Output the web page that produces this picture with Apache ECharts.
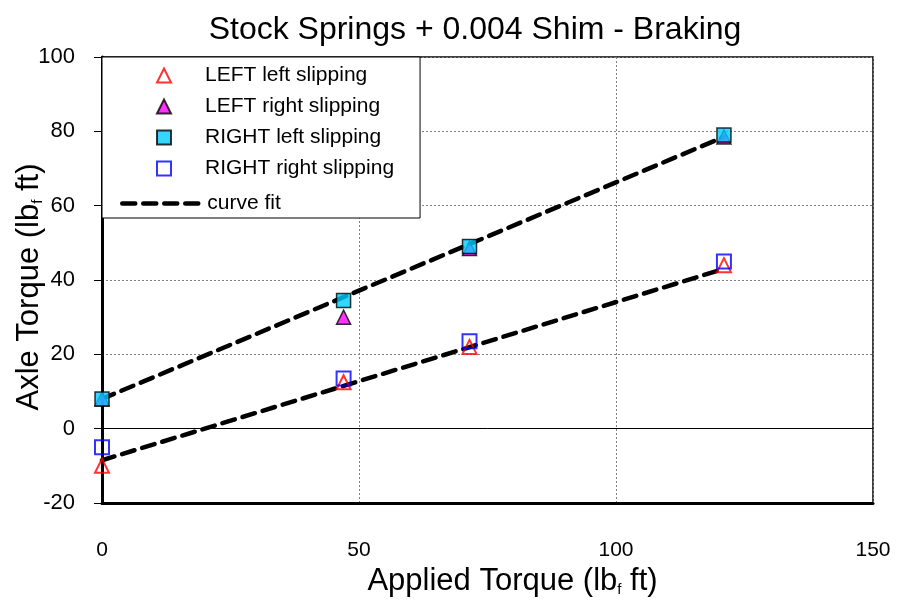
<!DOCTYPE html>
<html>
<head>
<meta charset="utf-8">
<script src="https://cdn.jsdelivr.net/npm/echarts@6/dist/echarts.min.js"></script>
<style>
  html, body { margin: 0; padding: 0; background: #fff; }
  #chart { width: 898px; height: 604px; }
</style>
</head>
<body>
<div id="chart"></div>
<script>
// --- data --- //
const leftLeft = [[0, -10], [47, 12.5], [71.5, 22], [121, 44]];
const leftRight = [[0, 8], [47, 30], [71.5, 48.5], [121, 78.5]];
const rightLeft = [[0, 8], [47, 34.5], [71.5, 49], [121, 79]];
const rightRight = [[0, -5], [47, 13.5], [71.5, 23.5], [121, 45]];
const fitUpper = [[0, 8], [121, 78.5]];
const fitLower = [[0, -8.5], [121, 43]];
const xTicks = [0, 150, 50];   // min, max, interval
const yTicks = [-20, 100, 20];
const markerNames = ['LEFT left slipping', 'LEFT right slipping', 'RIGHT left slipping', 'RIGHT right slipping'];

const font = 'Liberation Sans, Arial, sans-serif';
const dash = {
  color: '#000',
  width: 4.5,
  type: [13, 8],
  cap: 'round'
};
const nameRich = {
  a: { fontFamily: font, fontSize: 31, color: '#000' },
  s: { fontFamily: font, fontSize: 15, color: '#000', verticalAlign: 'bottom', padding: [14, 0, 0, 0] }
};

option = {
  animation: false,
  title: {
    text: 'Stock Springs + 0.004 Shim - Braking',
    left: 470,
    textAlign: 'center',
    top: 9,
    textStyle: { fontFamily: font, fontSize: 32, fontWeight: 'normal', color: '#000' }
  },
  legend: [
    {
      // markers + the box round the whole legend
      orient: 'vertical',
      left: 102,
      top: 57,
      padding: [8, 26, 39, 54],
      itemWidth: 14,
      itemHeight: 14,
      itemGap: 10,
      backgroundColor: '#fff',
      borderColor: '#000',
      borderWidth: 1,
      textStyle: { fontFamily: font, fontSize: 21, color: '#000', padding: [0, 0, 0, 29] },
      data: markerNames
    },
    {
      orient: 'vertical',
      left: 120,
      top: 193,
      padding: 0,
      z: 10,
      itemWidth: 80,
      itemHeight: 14,
      textStyle: { fontFamily: font, fontSize: 21, color: '#000' },
      data: [{
        name: 'curve fit',
        itemStyle: { opacity: 0 },
        lineStyle: { width: 4.5, type: [13, 8], color: '#000' }
      }]
    }
  ],
  grid: {
    left: 102,
    right: 25,
    top: 57,
    bottom: 101,
    outerBoundsMode: 'none',
    containLabel: false,
    show: true,
    borderColor: '#000',
    borderWidth: 1.5
  },
  xAxis: {
    type: 'value',
    min: xTicks[0],
    max: xTicks[1],
    interval: xTicks[2],
    name: '{a|Applied Torque (lb}{s|f}{a| ft)}',
    nameLocation: 'middle',
    nameGap: 60,
    nameTextStyle: { padding: [0, 0, 0, 50], rich: nameRich },
    axisLine: { onZero: false, lineStyle: { color: '#000', width: 3 } },
    axisTick: { show: false },
    axisLabel: { fontFamily: font, fontSize: 21, color: '#000', margin: 37 },
    splitLine: { lineStyle: { color: '#808080', type: [2, 2], width: 1 } }
  },
  yAxis: {
    type: 'value',
    min: yTicks[0],
    max: yTicks[1],
    interval: yTicks[2],
    name: '{a|Axle Torque (lb}{s|f}{a| ft)}',
    nameLocation: 'middle',
    nameGap: 57,
    nameMoveOverlap: false,
    nameTextStyle: { padding: [0, 14, 0, 0], rich: nameRich },
    axisLine: { onZero: false, lineStyle: { color: '#000', width: 3 } },
    axisTick: { show: true, inside: false, length: 8, lineStyle: { color: '#000', width: 1 } },
    axisLabel: { fontFamily: font, fontSize: 22, color: '#000', margin: 27 },
    splitLine: { lineStyle: { color: '#808080', type: [2, 2], width: 1 } }
  },
  series: [
    {
      name: 'curve fit',
      type: 'line',
      data: fitUpper,
      symbol: 'none',
      lineStyle: dash,
      itemStyle: { color: '#000' },
      z: 1,
      markLine: {
        silent: true,
        symbol: 'none',
        label: { show: false },
        lineStyle: { color: '#000', type: 'solid', width: 1 },
        emphasis: { disabled: true },
        data: [{ yAxis: 0 }]
      }
    },
    {
      name: 'curve fit',
      type: 'line',
      data: fitLower,
      symbol: 'none',
      lineStyle: dash,
      itemStyle: { color: '#000' },
      z: 1
    },
    {
      name: markerNames[0],
      type: 'scatter',
      data: leftLeft,
      symbol: 'triangle',
      symbolSize: 14,
      itemStyle: { color: 'rgba(0,0,0,0)', borderColor: '#ff0000', borderWidth: 2 },
      z: 3
    },
    {
      name: markerNames[1],
      type: 'scatter',
      data: leftRight,
      symbol: 'triangle',
      symbolSize: 14,
      itemStyle: { color: '#ff00ff', borderColor: '#000', borderWidth: 1.5 },
      z: 3
    },
    {
      name: markerNames[2],
      type: 'scatter',
      data: rightLeft,
      symbol: 'rect',
      symbolSize: 14,
      itemStyle: { color: '#00ccff', borderColor: '#000', borderWidth: 1.5 },
      z: 4
    },
    {
      name: markerNames[3],
      type: 'scatter',
      data: rightRight,
      symbol: 'rect',
      symbolSize: 14,
      itemStyle: { color: 'rgba(0,0,0,0)', borderColor: '#0000ff', borderWidth: 2 },
      z: 4
    }
  ]
};

const chart = echarts.init(document.getElementById('chart'));
chart.setOption(option);
</script>
</body>
</html>
